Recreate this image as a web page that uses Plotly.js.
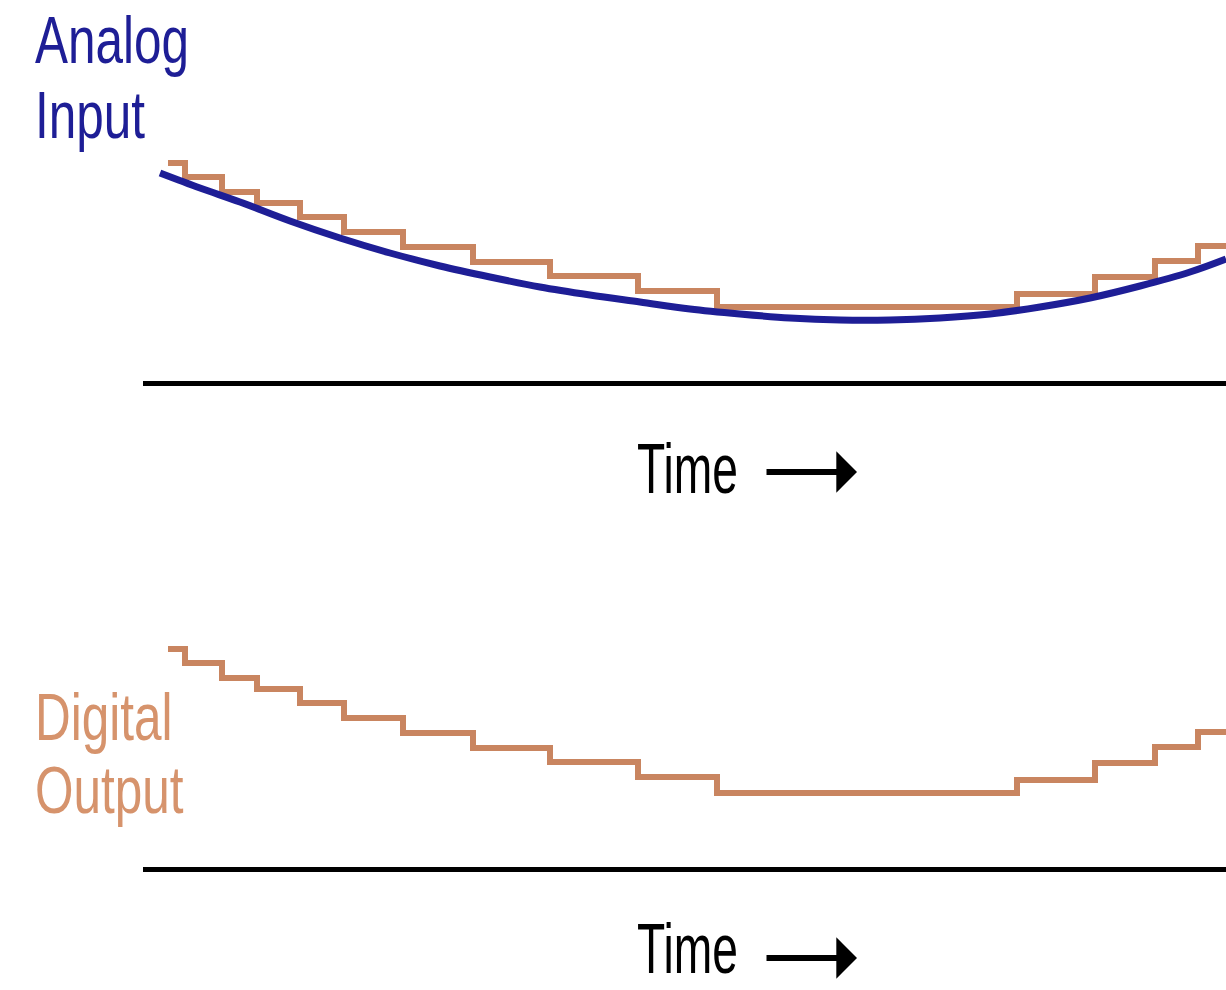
<!DOCTYPE html>
<html>
<head>
<meta charset="utf-8">
<script src="https://cdn.plot.ly/plotly-3.0.1.min.js"></script>
<style>html,body{margin:0;padding:0;background:#fff;}#chart{width:1226px;height:990px;}</style>
</head>
<body>
<div id="chart"></div>
<script>
// Analog input samples (time, level above the time axis)
const analogTime  = [160,200,240,290,340,390,440,490,540,590,640,690,740,790,840,890,940,990,1040,1090,1140,1190,1226];
const analogLevel = [208,193,179,160,143,128,115,104,94,86,79,72,67,63,61,61,63,67,74,83,95,109,122];

// Digital (quantized) output: step start times and held levels
const stepTime  = [168,185,222,257,300,344,403,473,550,638,717,1017,1095,1155,1198,1226];
const stepLevel = [218,204,189,178,164,149,134,119,105,90,74,87,104,120,135,135];

const axisLabel = "Time";
const topLabel = ["Analog", "Input"];
const bottomLabel = ["Digital", "Output"];

const W = 1226, H = 990;
const FONT = "'Liberation Sans', Arial, Helvetica, sans-serif";
const BLUE = "#1e1e96", ORANGE = "#c98560", ORANGE_TXT = "#d6936c";

const topBase = 381, bottomBase = 867, xLeft = 143;

const traces = [
  {x: stepTime, y: stepLevel, xaxis: 'x', yaxis: 'y', mode: 'lines', line: {shape: 'hv', color: ORANGE, width: 6}, hoverinfo: 'skip'},
  {x: analogTime, y: analogLevel, xaxis: 'x', yaxis: 'y', mode: 'lines', line: {shape: 'spline', color: BLUE, width: 7}, hoverinfo: 'skip'},
  {x: stepTime, y: stepLevel, xaxis: 'x2', yaxis: 'y2', mode: 'lines', line: {shape: 'hv', color: ORANGE, width: 6}, hoverinfo: 'skip'}
];

const xax = (anchor) => ({
  domain: [xLeft / W, 1], range: [xLeft, W], anchor: anchor,
  showline: true, linecolor: '#000', linewidth: 5,
  showgrid: false, zeroline: false, showticklabels: false, ticks: ''
});

const py = (px) => 1 - px / H;

function label(txt, x, yc, color, size) {
  return {text: txt, xref: 'paper', yref: 'paper', x: x / W, y: py(yc),
          xanchor: 'left', yanchor: 'middle', showarrow: false,
          font: {family: FONT, size: size, color: color}};
}
function timeArrow(yc) {
  return {text: '', xref: 'paper', yref: 'paper', x: 857 / W, y: py(yc),
          axref: 'pixel', ayref: 'pixel', ax: -92, ay: 0,
          showarrow: true, arrowhead: 1, arrowsize: 1.15, arrowwidth: 6, arrowcolor: '#000',
          standoff: 0, startstandoff: 0};
}

const layout = {
  width: W, height: H,
  margin: {l: 0, r: 0, t: 0, b: 0, pad: 0},
  paper_bgcolor: '#fff', plot_bgcolor: '#fff',
  showlegend: false,
  xaxis: xax('y'),
  yaxis: {domain: [py(topBase), 1], range: [0, topBase], visible: false, fixedrange: true},
  xaxis2: xax('y2'),
  yaxis2: {domain: [py(bottomBase), py(400)], range: [0, bottomBase - 400], visible: false, fixedrange: true},
  annotations: [
    label(topLabel[0], 33, 40, BLUE, 66),
    label(topLabel[1], 33, 115, BLUE, 66),
    label(bottomLabel[0], 33, 717, ORANGE_TXT, 66),
    label(bottomLabel[1], 33, 790, ORANGE_TXT, 66),
    label(axisLabel, 635, 469, '#000', 70), timeArrow(472),
    label(axisLabel, 635, 949, '#000', 70), timeArrow(958)
  ]
};

// horizontal condensing of each text (narrow type as in the reference)
const squeeze = [0.75, 0.75, 0.75, 0.75, 0.66, 1, 0.66, 1];

Plotly.newPlot('chart', traces, layout, {staticPlot: true, displayModeBar: false}).then(function (gd) {
  const texts = gd.querySelectorAll('.annotation .annotation-text');
  texts.forEach(function (t, i) {
    const s = squeeze[i] === undefined ? 1 : squeeze[i];
    if (s !== 1) {
      t.style.transformBox = 'fill-box';
      t.style.transformOrigin = 'left center';
      t.style.transform = 'scale(' + s + ',1)';
    }
  });
});
</script>
</body>
</html>
